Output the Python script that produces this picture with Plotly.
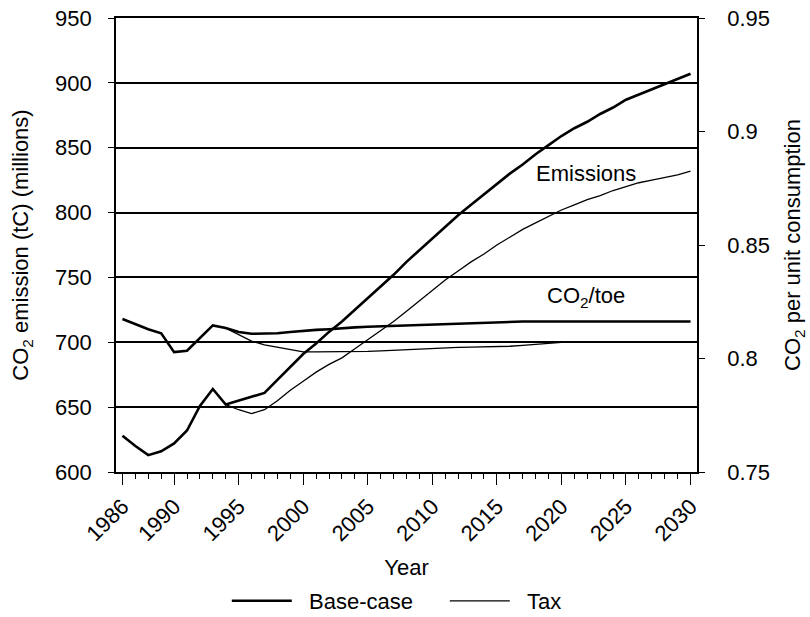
import plotly.graph_objects as go

# ---------------- data ----------------
years = list(range(1986, 2031))
tax_years = list(range(1994, 2031))

emis_base = [628, 620, 613, 616, 622, 632, 651, 664, 652, 655,
             658, 661, 671, 681, 691, 699, 708, 716, 725, 734,
             743, 752, 762, 771, 780, 789, 798, 806, 814, 822,
             830, 837, 845, 852, 859, 865, 870, 876, 881, 887,
             891, 895, 899, 903, 907]

emis_tax = [652, 648, 645, 648, 655, 663, 670, 677, 683, 688,
            695, 702, 709, 716, 724, 732, 740, 748, 755, 762,
            768, 775, 781, 787, 792, 797, 802, 806, 810, 813,
            817, 820, 823, 825, 827, 829, 832]

toe_base = [0.8174, 0.8151, 0.8129, 0.8111, 0.8028, 0.8034, 0.8089, 0.8146, 0.8134, 0.8117,
            0.8109, 0.8109, 0.8111, 0.8117, 0.8123, 0.8126, 0.8129, 0.8134, 0.8137, 0.8140,
            0.8142, 0.8143, 0.8146, 0.8147, 0.8149, 0.8151, 0.8153, 0.8155, 0.8157, 0.8160,
            0.8163, 0.8163, 0.8163, 0.8163, 0.8163, 0.8163, 0.8163, 0.8163, 0.8163, 0.8163,
            0.8163, 0.8163, 0.8163, 0.8163, 0.8163]

toe_tax = [0.8134, 0.8106, 0.8077, 0.8060, 0.8049, 0.8037, 0.8029, 0.8029, 0.8029, 0.8029,
           0.8029, 0.8031, 0.8034, 0.8037, 0.8037, 0.8040, 0.8043, 0.8046, 0.8049, 0.8050,
           0.8051, 0.8053, 0.8054, 0.8058, 0.8063, 0.8069, 0.8071, 0.8071, 0.8071, 0.8071,
           0.8071, 0.8071, 0.8071, 0.8071, 0.8071, 0.8071, 0.8071]

x_tickvals = [1986, 1990, 1995, 2000, 2005, 2010, 2015, 2020, 2025, 2030]
y_tickvals = [600, 650, 700, 750, 800, 850, 900, 950]
y2_tickvals = [0.75, 0.8, 0.85, 0.9, 0.95]
y2_ticktext = ["0.75", "0.8", "0.85", "0.9", "0.95"]

FONT = "Liberation Sans, Arial, Helvetica, sans-serif"
FS = 22
BASE_W = 2.6
TAX_W = 1.3

fig = go.Figure()
fig.add_trace(go.Scatter(x=years, y=emis_base, mode="lines", name="\u00a0\u00a0Base-case",
                         line=dict(color="black", width=BASE_W), showlegend=True))
fig.add_trace(go.Scatter(x=tax_years, y=emis_tax, mode="lines", name="\u00a0\u00a0Tax",
                         line=dict(color="black", width=TAX_W), showlegend=True))
fig.add_trace(go.Scatter(x=years, y=toe_base, mode="lines", name="Base-case",
                         line=dict(color="black", width=BASE_W), yaxis="y2", showlegend=False))
fig.add_trace(go.Scatter(x=tax_years, y=toe_tax, mode="lines", name="Tax",
                         line=dict(color="black", width=TAX_W), yaxis="y2", showlegend=False))

fig.add_annotation(x=2021.9, y=830, xref="x", yref="y", text="Emissions", showarrow=False,
                   font=dict(family=FONT, size=FS, color="black"))
fig.add_annotation(x=2021.9, y=735, xref="x", yref="y", text="CO<sub>2</sub>/toe", showarrow=False,
                   font=dict(family=FONT, size=FS, color="black"))

fig.update_layout(
    width=810, height=617,
    margin=dict(l=116, r=113, t=18, b=145),
    paper_bgcolor="white", plot_bgcolor="white",
    font=dict(family=FONT, size=FS, color="black"),
    xaxis=dict(
        range=[1985.5, 2030.5], tickvals=x_tickvals, tickangle=-45, automargin=False,
        ticks="outside", ticklen=11, tickwidth=1.3, tickcolor="black",
        minor=dict(tickmode="linear", tick0=1986, dtick=1, ticks="outside",
                   ticklen=5, tickwidth=1.2, tickcolor="black", showgrid=False),
        showgrid=False, zeroline=False,
        showline=True, linecolor="black", linewidth=1.6, mirror=True,
        tickfont=dict(family=FONT, size=FS, color="black"),
        title=dict(text="Year", font=dict(family=FONT, size=FS, color="black"), standoff=18),
    ),
    yaxis=dict(
        range=[600, 950], tickvals=y_tickvals, automargin=False,
        ticks="outside", ticklen=6, tickwidth=1.3, tickcolor="black", ticklabelstandoff=12,
        showgrid=True, gridcolor="black", gridwidth=1.5, zeroline=False,
        showline=True, linecolor="black", linewidth=1.6,
        tickfont=dict(family=FONT, size=FS, color="black"),
        title=dict(text="CO<sub>2</sub> emission (tC) (millions)",
                   font=dict(family=FONT, size=FS, color="black"), standoff=20),
    ),
    yaxis2=dict(
        range=[0.75, 0.95], overlaying="y", side="right", automargin=False,
        tickvals=y2_tickvals, ticktext=y2_ticktext,
        ticks="outside", ticklen=6, tickwidth=1.3, tickcolor="black", ticklabelstandoff=18,
        showgrid=False, zeroline=False,
        showline=True, linecolor="black", linewidth=1.6,
        tickfont=dict(family=FONT, size=FS, color="black"),
        title=dict(text="CO<sub>2</sub> per unit consumption",
                   font=dict(family=FONT, size=FS, color="black"), standoff=16),
    ),
    legend=dict(orientation="h", xref="container", yref="container",
                x=0.28, xanchor="left", y=0.060, yanchor="top",
                font=dict(family=FONT, size=FS, color="black"),
                itemwidth=60, entrywidth=143, entrywidthmode="pixels",
                bgcolor="rgba(0,0,0,0)"),
    showlegend=True,
)

fig.write_html("out.html")
